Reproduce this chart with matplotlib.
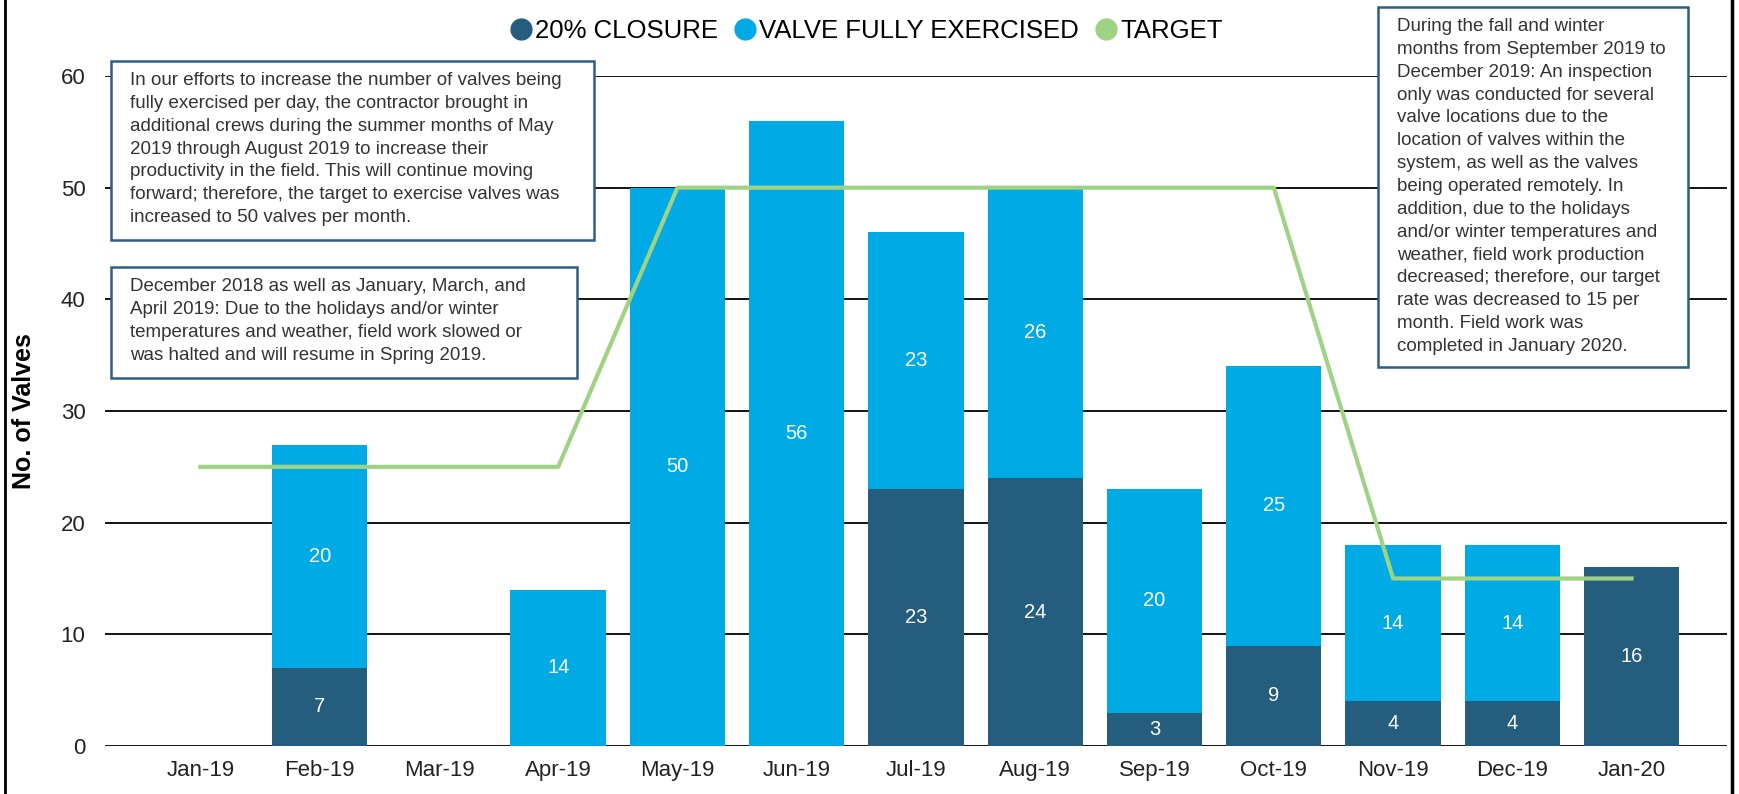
import matplotlib.pyplot as plt
from matplotlib.lines import Line2D

plt.rcParams['font.family'] = ['Liberation Sans', 'DejaVu Sans']

months = ['Jan-19', 'Feb-19', 'Mar-19', 'Apr-19', 'May-19', 'Jun-19', 'Jul-19',
          'Aug-19', 'Sep-19', 'Oct-19', 'Nov-19', 'Dec-19', 'Jan-20']
closure = [0, 7, 0, 0, 0, 0, 23, 24, 3, 9, 4, 4, 16]
exercised = [0, 20, 0, 14, 50, 56, 23, 26, 20, 25, 14, 14, 0]
target = [25, 25, 25, 25, 50, 50, 50, 50, 50, 50, 15, 15, 15]

note1 = ("In our efforts to increase the number of valves being\n"
         "fully exercised per day, the contractor brought in\n"
         "additional crews during the summer months of May\n"
         "2019 through August 2019 to increase their\n"
         "productivity in the field. This will continue moving\n"
         "forward; therefore, the target to exercise valves was\n"
         "increased to 50 valves per month.")
note2 = ("December 2018 as well as January, March, and\n"
         "April 2019: Due to the holidays and/or winter\n"
         "temperatures and weather, field work slowed or\n"
         "was halted and will resume in Spring 2019.")
note3 = ("During the fall and winter\n"
         "months from September 2019 to\n"
         "December 2019: An inspection\n"
         "only was conducted for several\n"
         "valve locations due to the\n"
         "location of valves within the\n"
         "system, as well as the valves\n"
         "being operated remotely. In\n"
         "addition, due to the holidays\n"
         "and/or winter temperatures and\n"
         "weather, field work production\n"
         "decreased; therefore, our target\n"
         "rate was decreased to 15 per\n"
         "month. Field work was\n"
         "completed in January 2020.")

c_dark = '#255d7f'
c_light = '#00abe5'
c_green = '#9fd283'
c_box = '#2d5f86'

W, H = 1740, 794
fig = plt.figure(figsize=(W / 100, H / 100), dpi=100)
ax = fig.add_axes([105 / W, 1 - 746 / H, (1727 - 105) / W, (746 - 76) / H])

x = list(range(len(months)))
ax.bar(x, closure, width=0.8, color=c_dark, zorder=2)
ax.bar(x, exercised, width=0.8, bottom=closure, color=c_light, zorder=2)
ax.plot(x, target, color=c_green, linewidth=3, zorder=3)

for i in x:
    if closure[i] > 0:
        ax.text(i, closure[i] / 2, str(closure[i]), ha='center', va='center',
                color='white', fontsize=14.5, zorder=4)
    if exercised[i] > 0:
        ax.text(i, closure[i] + exercised[i] / 2, str(exercised[i]), ha='center',
                va='center', color='white', fontsize=14.5, zorder=4)

ax.set_xlim(-0.8, 12.8)
ax.set_ylim(0, 60)
ax.set_yticks([0, 10, 20, 30, 40, 50, 60])
ax.set_xticks(x)
ax.set_xticklabels(months)
ax.yaxis.grid(True, color='black', linewidth=1.3, zorder=1)
ax.set_axisbelow(True)
for s in ['top', 'right', 'left', 'bottom']:
    ax.spines[s].set_visible(False)
ax.tick_params(axis='both', length=0, labelsize=16, colors='#222222')
ax.tick_params(axis='y', pad=14)
ax.tick_params(axis='x', pad=10)
ax.set_ylabel('No. of Valves', fontsize=18, fontweight='bold', labelpad=18)

handles = [Line2D([], [], marker='o', color='none', markerfacecolor=c, markeredgecolor=c, markersize=15)
           for c in [c_dark, c_light, c_green]]
fig.legend(handles, ['20% CLOSURE', 'VALVE FULLY EXERCISED', 'TARGET'],
           loc='center', bbox_to_anchor=(866 / W, 1 - 31 / H), ncol=3, frameon=False,
           fontsize=18.5, handlelength=0.9, handletextpad=0.1, columnspacing=0.6)


def note(x0, y0, x1, y1, tx, ty, txt):
    r = plt.Rectangle((x0 / W, 1 - y1 / H), (x1 - x0) / W, (y1 - y0) / H, transform=fig.transFigure,
                      facecolor='white', edgecolor=c_box, linewidth=1.8, zorder=5)
    fig.add_artist(r)
    fig.text(tx / W, 1 - ty / H, txt, ha='left', va='top', fontsize=13.5, color='#333333',
             linespacing=1.45, zorder=6)


note(111, 61, 594, 240, 130, 72, note1)
note(111, 267, 577, 378, 130, 278, note2)
note(1378, 7, 1688, 367, 1397, 18, note3)

# side borders of the picture
fig.add_artist(Line2D([5 / W, 5 / W], [0, 1], transform=fig.transFigure, color='black', linewidth=2))
fig.add_artist(Line2D([1732 / W, 1732 / W], [0, 1], transform=fig.transFigure, color='black', linewidth=2.5))

fig.savefig('out.png', dpi=100)
